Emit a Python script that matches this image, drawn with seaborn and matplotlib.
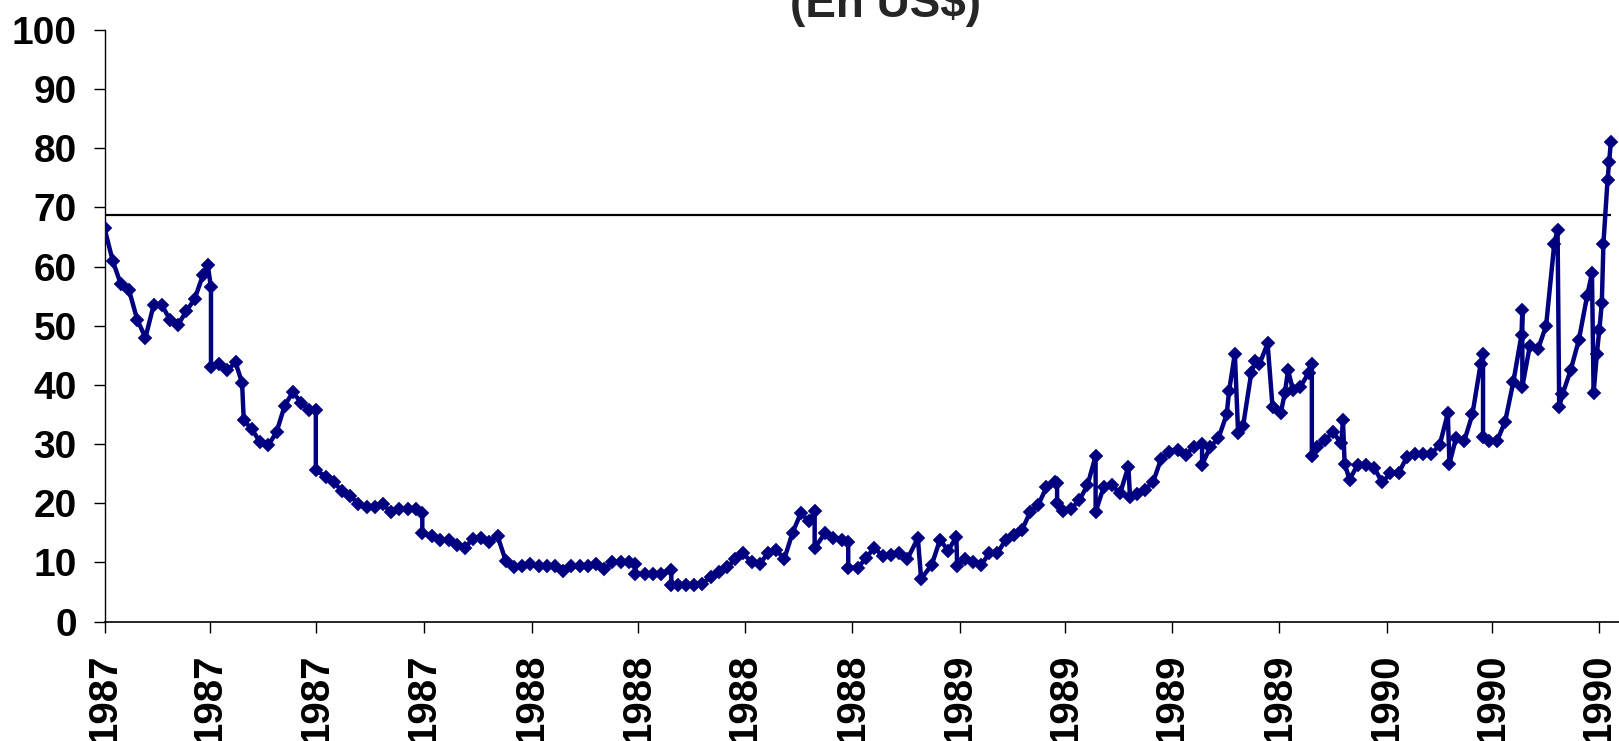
import numpy as np
import pandas as pd
import matplotlib
matplotlib.use('Agg')
import matplotlib.pyplot as plt
import matplotlib.dates as mdates
import seaborn as sns

# semanas desde el 1 de enero de 1987 y precio (En US$)
semanas = [0, 1, 2, 3, 4, 5, 6, 7, 8, 9, 10, 11, 12, 12.6, 13, 13, 14, 15, 16, 16.8,
           17, 18, 19, 20, 21, 22, 23, 24, 25, 25.8, 25.8, 27, 28, 29, 30, 31, 32, 33, 34, 35,
           36, 37, 38, 38.8, 38.8, 40, 41, 42, 43, 44, 45, 46, 47, 48, 49, 50, 51, 52, 53, 54,
           55, 56, 57, 58, 59, 60, 61, 62, 63, 64, 64.8, 64.8, 66, 67, 68, 69.2, 69.2, 70, 71, 72,
           73, 74, 75, 76, 77, 78, 79, 80, 81, 82, 83, 84, 85, 86, 86.7, 86.7, 88, 89, 90, 90.8,
           90.8, 92, 93, 94, 95, 96, 97, 98, 99.3, 99.7, 101, 102, 103, 104, 104.1, 105, 106, 107, 108, 109,
           110, 111, 112, 113, 114, 115, 116, 116.3, 116.3, 117, 118, 119, 120, 121, 121, 122, 123, 124, 125, 125.2,
           126, 127, 128, 129, 130, 131, 132, 133, 134, 134, 135, 136, 137, 137.3, 138, 138.4, 139, 140, 140.5, 141,
           142, 142.6, 143.6, 144.1, 144.5, 145.1, 146, 147, 147.4, 147.4, 148, 149, 150, 151, 151.2, 151.4, 152, 153, 154, 155,
           156, 157, 158, 159, 160, 161, 162, 163, 164, 164.2, 165, 166, 167, 168, 168.3, 168.3, 169, 170, 171, 172,
           173, 173.1, 173.1, 174, 175, 176, 177, 177.4, 177.6, 178, 179, 180, 181, 181.6, 181.8, 182.2, 182.5, 182.8, 183, 183.5,
           183.7, 183.9]
precio = [66.5, 61, 57, 56, 51, 48, 53.5, 53.5, 51, 50.2, 52.5, 54.5, 58.5, 60.3, 56.5, 43, 43.5, 42.5, 43.8, 40.3,
          34, 32.5, 30.3, 29.8, 32, 36.5, 38.8, 37, 35.8, 35.8, 25.6, 24.5, 23.6, 22, 21.3, 19.8, 19.4, 19.4, 19.8, 18.5,
          19.1, 19.1, 19, 18.3, 15, 14.5, 13.8, 13.8, 13, 12.5, 14, 14.2, 13.5, 14.4, 10.2, 9.2, 9.3, 9.8, 9.3, 9.3,
          9.3, 8.5, 9.3, 9.3, 9.3, 9.8, 8.8, 10, 10, 10, 9.8, 8.1, 8.1, 8.1, 8.1, 8.7, 6.2, 6.2, 6.2, 6.2,
          6.4, 7.6, 8.3, 9.2, 10.5, 11.5, 10, 9.8, 11.5, 12.1, 10.6, 15, 18.3, 17, 18.6, 12.4, 15, 14.2, 13.8, 13.5,
          9.1, 9.1, 10.8, 12.5, 11, 11.3, 11.5, 10.5, 14.1, 7.2, 9.6, 13.8, 12, 14.3, 9.4, 10.5, 10, 9.5, 11.5, 11.5,
          13.8, 14.7, 15.4, 18.5, 19.7, 22.7, 23.5, 23.4, 20, 18.6, 19, 20.5, 23, 28, 18.5, 22.8, 23, 21.7, 26.2, 21.1,
          21.5, 22.3, 23.5, 27.5, 28.7, 29, 28.2, 29.5, 30, 26.5, 29.5, 31, 35, 39, 45.3, 31.8, 33, 42, 44, 43.5,
          47, 36.3, 35.2, 38.6, 42.5, 39.1, 39.7, 42, 43.6, 27.9, 29.5, 30.7, 32, 30.1, 34.1, 26.7, 24, 26.5, 26.5, 26,
          23.5, 25.1, 25.1, 27.8, 28.4, 28.4, 28.4, 29.8, 35.2, 26.7, 31, 30.5, 35, 43.5, 45.3, 31.2, 30.5, 30.5, 33.8, 40.5,
          48.5, 52.7, 39.7, 46.5, 46, 50, 63.9, 66.2, 36.3, 38.4, 42.5, 47.6, 55, 58.9, 38.6, 45.3, 49.3, 53.8, 63.9, 74.6,
          77.7, 81]
nivel = 68.8
titulo = '(En US$)'

inicio = pd.Timestamp('1987-01-01')
df = pd.DataFrame({
    'fecha': inicio + pd.to_timedelta(np.array(semanas) * 7, unit='D'),
    'precio': precio,
})

sns.set_style('ticks')
plt.rcParams['font.family'] = ['Liberation Sans', 'DejaVu Sans']
plt.rcParams['font.weight'] = 'bold'

fig = plt.figure(figsize=(16.19, 7.41), dpi=100)
ax = fig.add_axes([104.5 / 1619, 1 - 621.5 / 741, 1 - 104.5 / 1619, (621.5 - 30) / 741])

# linea de referencia
ax.hlines(nivel, df['fecha'].min(), df['fecha'].max(), color='black', lw=1.6, zorder=1)

sns.lineplot(data=df, x='fecha', y='precio', ax=ax, estimator=None, sort=False,
             color='#000080', lw=3.2, marker='D', markersize=5.8,
             markeredgewidth=1.3, markeredgecolor='#000080', zorder=3)

ax.set_ylim(0, 100)
ax.set_yticks(range(0, 101, 10))
ax.set_xlim(inicio, df['fecha'].max() + pd.Timedelta(days=7))
ax.set_xticks(pd.date_range('1987-01-01', '1990-07-01', freq='QS'))
ax.xaxis.set_major_formatter(mdates.DateFormatter('%Y'))
ax.set_xlabel('')
ax.set_ylabel('')

for s in ['top', 'right']:
    ax.spines[s].set_visible(False)
ax.spines['left'].set_linewidth(1.0)
ax.spines['bottom'].set_linewidth(1.2)
ax.spines['left'].set_color('black')
ax.spines['bottom'].set_color('black')

ax.tick_params(axis='y', direction='out', length=8, width=1, pad=12,
               labelsize=28, colors='black')
ax.tick_params(axis='x', direction='out', length=8, width=1, pad=15,
               labelsize=29, colors='black', labelrotation=90)
for lbl in ax.get_xticklabels() + ax.get_yticklabels():
    lbl.set_fontweight('bold')

fig.text(885 / 1619, 1 - 17 / 741, titulo, ha='center', va='baseline',
         fontsize=33, fontweight='bold')

fig.savefig('out.png', dpi=100)
